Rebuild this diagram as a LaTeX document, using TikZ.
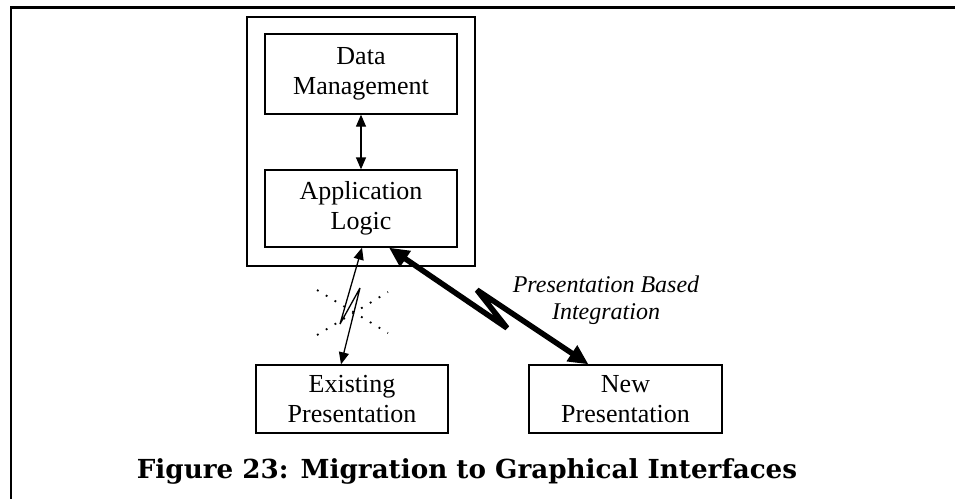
\documentclass[tikz,border=0pt]{standalone}
\usepackage{fontspec}
\setmainfont{Liberation Serif}
\newfontfamily\capfont{DejaVu Serif}
\usetikzlibrary{arrows.meta}
\begin{document}
\begin{tikzpicture}[x=1pt,y=-1pt,
 box/.style={draw, line width=1.3pt, minimum width=192pt, align=center, inner sep=0pt,
   font=\fontsize{26}{30}\selectfont},
 thinarrow/.style={line width=1.3pt, line join=bevel,
   {Triangle[length=12pt,width=10pt]}-{Triangle[length=12pt,width=10pt]}},
 thickarrow/.style={line width=5.5pt, line join=bevel,
   {Triangle[length=20pt,width=18pt]}-{Triangle[length=20pt,width=18pt]}},
 crossline/.style={line width=1.8pt, dash pattern=on 1.8pt off 8.5pt},
]
\useasboundingbox (0,0) rectangle (955,499);
% frame
\draw[line width=2.2pt] (955,7.5) -- (11,7.5) -- (11,499);
% outer container
\node[draw, line width=1.5pt, minimum width=228pt, minimum height=249pt, inner sep=0pt] (outer) at (361,141.5) {};
% boxes
\node[box, minimum height=80pt] (DM) at (361,74) {Data\\Management};
\node[box, minimum height=77pt] (AL) at (361,208.5) {Application\\Logic};
\node[box, minimum height=68pt] (EX) at (352,399) {Existing\\Presentation};
\node[box, minimum width=193pt, minimum height=68pt] (NP) at (625.5,399) {New\\Presentation};
% DM <-> AL
\draw[thinarrow] (DM.south) -- (AL.north);
% crossed-out link
\draw[crossline] (317,290) -- (388,333);
\draw[crossline] (317,335) -- (388,292);
\coordinate (a1) at (340,324);
\coordinate (a2) at (360,288);
\draw[thinarrow] ([xshift=1pt]AL.south) -- (a1) -- (a2) -- ([xshift=-11pt]EX.north);
% presentation based integration
\coordinate (b1) at (507,328);
\coordinate (b2) at (477,290);
\draw[thickarrow] ([xshift=28pt]AL.south) -- (b1) -- (b2) -- ([xshift=-37pt]NP.north);
\node[font=\fontsize{24}{27}\selectfont\itshape, align=center] (lbl) at (606,300) {Presentation Based\\Integration};
% caption
\node[font=\capfont\bfseries\fontsize{26.2}{30}\selectfont] (cap) at (467,471) {Figure 23: Migration to Graphical Interfaces};
\end{tikzpicture}
\end{document}
